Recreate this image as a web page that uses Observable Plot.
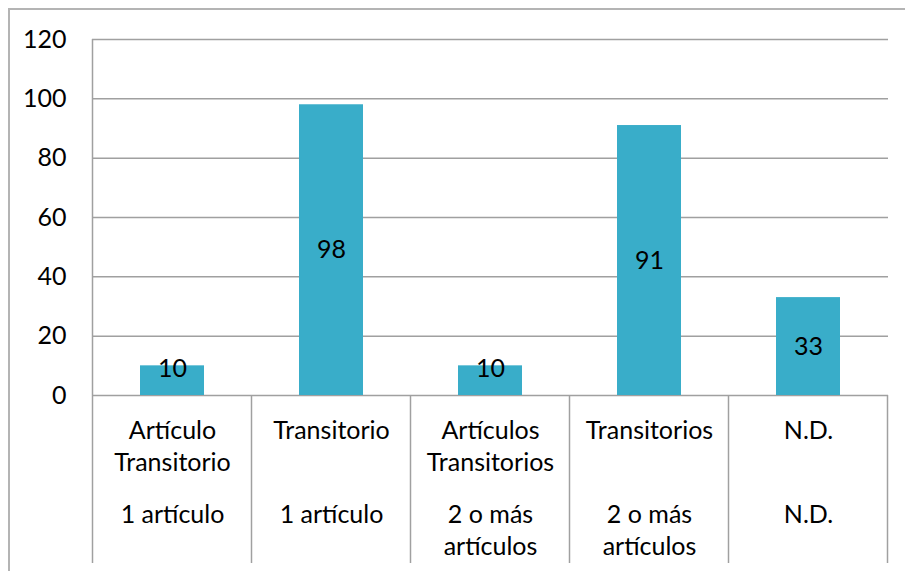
<!DOCTYPE html>
<html>
<head>
<meta charset="utf-8">
<script src="https://cdn.jsdelivr.net/npm/d3@7"></script>
<script src="https://cdn.jsdelivr.net/npm/@observablehq/plot@0.6"></script>
<style>
  html, body { margin: 0; padding: 0; background: #fff; }
  #wrap { position: relative; width: 905px; height: 571px; }
  #frame { position: absolute; left: 8px; top: 8px; right: 0; bottom: 0; border-left: 2px solid #b4b4b4; border-top: 2px solid #b4b4b4; pointer-events: none; }
  svg { font-family: Lato, "Open Sans", sans-serif; }
</style>
</head>
<body>
<div id="wrap"><div id="frame"></div></div>
<script>
const level1 = ["Artículo\nTransitorio", "Transitorio", "Artículos\nTransitorios", "Transitorios", "N.D."];
const level2 = ["1 artículo", "1 artículo", "2 o más\nartículos", "2 o más\nartículos", "N.D."];
const values = [10, 98, 10, 91, 33];
const yTicks = [0, 20, 40, 60, 80, 100, 120];

const data = values.map((v, i) => ({i, v, l1: level1[i], l2: level2[i]}));
const FS = 25;
const gridColor = "#a0a0a0";

const separators = (index, scales, vals, dims) => {
  const x = scales.x, y = scales.y;
  const step = x.step();
  const off = (step - x.bandwidth()) / 2;
  const g = d3.create("svg:g");
  const y0 = y(0);
  const yBottom = dims.height - 8;
  const edges = data.map(d => x(d.i) - off).concat([x(data[data.length - 1].i) - off + step]);
  for (const e of edges) {
    g.append("line").attr("x1", e).attr("x2", e).attr("y1", y0).attr("y2", yBottom)
      .attr("stroke", gridColor).attr("stroke-width", 1.5);
  }
  g.append("line").attr("x1", edges[0]).attr("x2", edges[0]).attr("y1", y(120)).attr("y2", y0)
    .attr("stroke", gridColor).attr("stroke-width", 1.5);
  return g.node();
};

const chart = Plot.plot({
  width: 905,
  height: 571,
  marginLeft: 92,
  marginRight: 17,
  marginTop: 39,
  marginBottom: 176,
  style: {fontFamily: "Lato, 'Open Sans', sans-serif", fontSize: FS + "px", color: "#000", background: "transparent"},
  x: {domain: data.map(d => d.i), paddingInner: 0.6, paddingOuter: 0.3, axis: null},
  y: {domain: [0, 120], axis: null},
  marks: [
    Plot.gridY(yTicks, {stroke: gridColor, strokeOpacity: 1, strokeWidth: 1.5}),
    Plot.axisY({ticks: yTicks, tickSize: 0, tickPadding: 26, fontSize: FS, label: null}),
    Plot.barY(data, {x: "i", y: "v", fill: "#39adc9"}),
    separators,
    Plot.text(data, {x: "i", y: d => Math.max(d.v / 2, 9), text: d => String(d.v), fontSize: FS, fill: "#000"}),
    Plot.text(data, {x: "i", text: "l1", frameAnchor: "bottom", lineAnchor: "top", dy: 21, lineHeight: 1.28, fontSize: FS, fill: "#000"}),
    Plot.text(data, {x: "i", text: "l2", frameAnchor: "bottom", lineAnchor: "top", dy: 105, lineHeight: 1.28, fontSize: FS, fill: "#000"})
  ]
});
document.getElementById("wrap").prepend(chart);
</script>
</body>
</html>
